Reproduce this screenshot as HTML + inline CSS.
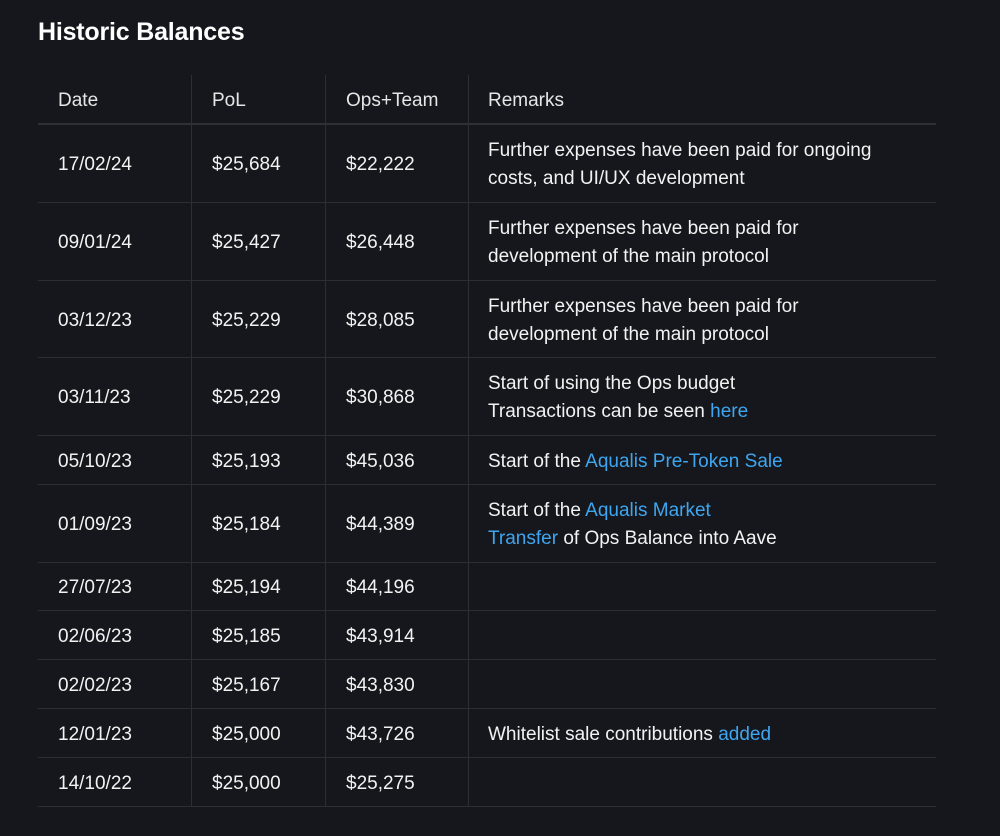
<!DOCTYPE html>
<html><head><meta charset="utf-8"><style>
body{margin:0;background:#15171c;width:1000px;height:836px;overflow:hidden;font-family:"Liberation Sans",sans-serif;color:#f2f2f2}
h1{position:absolute;left:38px;top:18px;margin:0;font-size:25px;font-weight:bold;color:#fff;letter-spacing:-0.2px}
.row{position:absolute;left:38px;width:898px;border-bottom:1px solid #2c2e35;font-size:19px}
.hdr{border-bottom:2px solid #2e3038;color:#e6e6e6}
.c{position:absolute;top:0;bottom:0;display:flex;align-items:center;line-height:28px;border-left:1px solid #2c2e35;padding-left:20px;padding-top:3px;box-sizing:border-box}
.c1{left:0;width:153px;border-left:none}
.c2{left:153px;width:134px}
.c3{left:287px;width:143px}
.c4{left:430px;width:468px;padding-left:19px}
a{color:#3ea6f0;text-decoration:none}
</style></head><body>
<h1>Historic Balances</h1>
<div id="t"></div>
<script>
const dates=["17/02/24","09/01/24","03/12/23","03/11/23","05/10/23","01/09/23","27/07/23","02/06/23","02/02/23","12/01/23","14/10/22"];
const pol=["$25,684","$25,427","$25,229","$25,229","$25,193","$25,184","$25,194","$25,185","$25,167","$25,000","$25,000"];
const ops=["$22,222","$26,448","$28,085","$30,868","$45,036","$44,389","$44,196","$43,914","$43,830","$43,726","$25,275"];
const remarks=[
"Further expenses have been paid for ongoing<br>costs, and UI/UX development",
"Further expenses have been paid for<br>development of the main protocol",
"Further expenses have been paid for<br>development of the main protocol",
"Start of using the Ops budget<br>Transactions can be seen <a href='#'>here</a>",
"Start of the <a href='#'>Aqualis Pre-Token Sale</a>",
"Start of the <a href='#'>Aqualis Market<br>Transfer</a> of Ops Balance into Aave",
"","","","Whitelist sale contributions <a href='#'>added</a>",""];
const heights=[78,78,77,78,49,78,48,49,49,49,49];
const t=document.getElementById('t');
function mk(top,h,vals,hdr,name){
 const r=document.createElement('div');
 
 
 r.className='row'+(hdr?' hdr':'');
 r.style.top=top+'px';r.style.height=h+'px';
 const names=['date-cell','pol-cell','ops-team-cell','remarks-cell'];
 vals.forEach((v,i)=>{const c=document.createElement('div');
  
  
  c.className='c c'+(i+1);c.innerHTML='<span>'+v+'</span>';r.appendChild(c);});
 t.appendChild(r);
}
mk(75,48,["Date","PoL","Ops+Team","Remarks"],true,'header-row');
let y=125;
dates.forEach((d,i)=>{mk(y,heights[i]-1,[d,pol[i],ops[i],remarks[i]],false,'row-'+d.replace(/\//g,'-'));y+=heights[i];});
document.querySelectorAll('a').forEach(a=>{
 
 
});
</script>
</body></html>
